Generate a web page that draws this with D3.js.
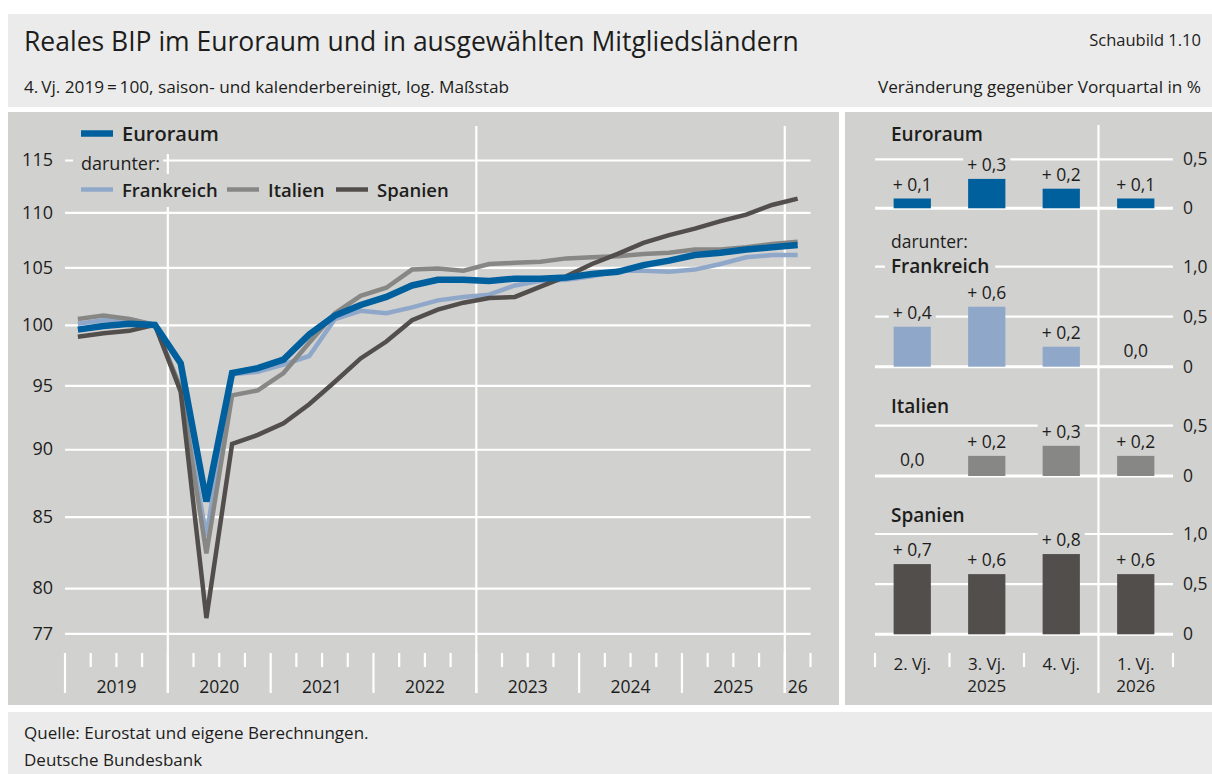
<!DOCTYPE html>
<html>
<head>
<meta charset="utf-8">
<script src="https://cdn.jsdelivr.net/npm/d3@7"></script>
<style>
  body { margin: 0; background: #fff; }
  svg text { font-family: "Open Sans", "Noto Sans", sans-serif; fill: #1d1d1b; }
</style>
</head>
<body>
<svg id="chart" width="1212" height="774"></svg>
<script>
// quarters 2019 Q1 .. 2026 Q1
const quarters = ['2019Q1', '2019Q2', '2019Q3', '2019Q4',
  '2020Q1', '2020Q2', '2020Q3', '2020Q4',
  '2021Q1', '2021Q2', '2021Q3', '2021Q4',
  '2022Q1', '2022Q2', '2022Q3', '2022Q4',
  '2023Q1', '2023Q2', '2023Q3', '2023Q4',
  '2024Q1', '2024Q2', '2024Q3', '2024Q4',
  '2025Q1', '2025Q2', '2025Q3', '2025Q4',
  '2026Q1'];
const yearLabels = ['2019', '2020', '2021', '2022', '2023', '2024', '2025', '26'];
const yTicks = [77, 80, 85, 90, 95, 100, 105, 110, 115];

// 4. Vj. 2019 = 100
const euroraum = [99.6, 99.9, 100.1, 100.0, 96.8, 86.1, 96.0, 96.4, 97.1, 99.2, 100.8, 101.7, 102.4, 103.4, 103.9,
  103.9, 103.8, 104.0, 104.0, 104.1, 104.4, 104.6, 105.2, 105.6, 106.1, 106.3, 106.6, 106.8, 107.0];
const frankreich = [100.1, 100.4, 100.5, 100.0, 94.6, 83.6, 95.9, 96.1, 96.7, 97.4, 100.5, 101.2, 101.0, 101.5, 102.1,
  102.4, 102.6, 103.4, 103.8, 103.9, 104.2, 104.7, 104.7, 104.6, 104.8, 105.3, 105.9, 106.1, 106.1];
const italien = [100.5, 100.8, 100.5, 100.0, 94.8, 82.4, 94.2, 94.6, 96.0, 98.5, 101.0, 102.5, 103.2, 104.8, 104.9,
  104.7, 105.3, 105.4, 105.5, 105.8, 105.9, 106.0, 106.2, 106.3, 106.6, 106.6, 106.8, 107.1, 107.3];
const spanien = [99.0, 99.3, 99.5, 100.0, 94.5, 78.0, 90.4, 91.1, 92.0, 93.5, 95.3, 97.2, 98.6, 100.4, 101.3,
  101.9, 102.3, 102.4, 103.3, 104.2, 105.3, 106.2, 107.2, 107.9, 108.5, 109.2, 109.8, 110.7, 111.3];

// Veränderung gegenüber Vorquartal in %
const barQuarters = ['2. Vj.', '3. Vj.', '4. Vj.', '1. Vj.'];
const barYears = ['', '2025', '', '2026'];
const barEuroraum = [0.1, 0.3, 0.2, 0.1];
const barFrankreich = [0.4, 0.6, 0.2, 0.0];
const barItalien = [0.0, 0.2, 0.3, 0.2];
const barSpanien = [0.7, 0.6, 0.8, 0.6];

const colors = {
  euro: '#005f9d',
  fr: '#8fa8c9',
  it: '#878786',
  es: '#524e4b'
};
const panelColor = '#d1d1d0';

const svg = d3.select('#chart');

// background / frames
svg.append('rect').attr('x', 8).attr('y', 14).attr('width', 1204).attr('height', 760).attr('fill', '#ebebeb');
svg.append('rect').attr('x', 8).attr('y', 107).attr('width', 1204).attr('height', 605).attr('fill', '#fff');
svg.append('rect').attr('x', 8).attr('y', 112).attr('width', 831).attr('height', 593).attr('fill', panelColor);
svg.append('rect').attr('x', 845).attr('y', 112).attr('width', 367).attr('height', 593).attr('fill', panelColor);

// header
svg.append('text').attr('x', 24).attr('y', 51).attr('font-size', 26.5)
  .text('Reales BIP im Euroraum und in ausgewählten Mitgliedsländern');
svg.append('text').attr('x', 1201).attr('y', 46).attr('font-size', 16.5).attr('text-anchor', 'end')
  .text('Schaubild 1.10');
svg.append('text').attr('x', 24).attr('y', 93).attr('font-size', 17.2)
  .text('4.\u2009Vj. 2019\u2009=\u2009100, saison- und kalenderbereinigt, log. Maßstab');
svg.append('text').attr('x', 1201).attr('y', 93).attr('font-size', 17.2).attr('text-anchor', 'end')
  .text('Veränderung gegenüber Vorquartal in %');

// footer
svg.append('text').attr('x', 24).attr('y', 739).attr('font-size', 17)
  .text('Quelle: Eurostat und eigene Berechnungen.');
svg.append('text').attr('x', 24).attr('y', 766).attr('font-size', 17)
  .text('Deutsche Bundesbank');

// helper: text with a panel coloured box behind it
function boxedText(g, str, x, y, opts) {
  const t = g.append('text').attr('x', x).attr('y', y)
    .attr('font-size', opts.size || 17)
    .attr('font-weight', opts.weight || 400)
    .attr('text-anchor', opts.anchor || 'start')
    .text(str);
  const b = t.node().getBBox();
  const padX = opts.padX == null ? 4 : opts.padX;
  g.insert('rect', () => t.node())
    .attr('x', b.x - padX).attr('y', b.y)
    .attr('width', b.width + 2 * padX).attr('height', b.height)
    .attr('fill', panelColor);
  return t;
}

// ---------- left chart ----------
const x = d3.scaleBand().domain(quarters).range([65, 810.5]);
const y = d3.scaleLog().domain([77, 115]).range([633.3, 160]);
const cx = q => x(q) + x.bandwidth() / 2;
const xEnd = x.range()[1];

const left = svg.append('g');

// horizontal grid + labels
const yAxis = d3.axisLeft(y).tickValues(yTicks).tickFormat(d3.format('d'))
  .tickSize(-(xEnd - 65)).tickPadding(12);
const yg = left.append('g').attr('transform', 'translate(65,0)').call(yAxis);
yg.select('.domain').remove();
yg.selectAll('line').attr('stroke', '#fff').attr('stroke-width', 2.2);
yg.selectAll('text').attr('font-size', 18).attr('fill', '#1d1d1b').attr('font-family', null);

// full-height separators
const sepQuarters = ['2020Q1', '2023Q1', '2026Q1'];
left.selectAll('line.sep').data(sepQuarters).join('line')
  .attr('class', 'sep')
  .attr('x1', d => x(d)).attr('x2', d => x(d))
  .attr('y1', 126).attr('y2', 693)
  .attr('stroke', '#fff').attr('stroke-width', 2.2);

// quarter ticks
const tickPos = quarters.map(q => ({pos: x(q), yearStart: q.endsWith('Q1')}));
tickPos.push({pos: xEnd, yearStart: false});
left.selectAll('line.qtick').data(tickPos).join('line')
  .attr('class', 'qtick')
  .attr('x1', d => d.pos).attr('x2', d => d.pos)
  .attr('y1', 653).attr('y2', d => d.yearStart ? 693 : 667)
  .attr('stroke', '#fff').attr('stroke-width', 2.2);

// year labels
left.selectAll('text.year').data(yearLabels).join('text')
  .attr('class', 'year')
  .attr('x', (d, i) => {
    const qs = quarters.filter(q => q.slice(0, 4) === String(2019 + i));
    return (x(qs[0]) + x(qs[qs.length - 1]) + x.bandwidth()) / 2;
  })
  .attr('y', 692.5)
  .attr('font-size', 17.5)
  .attr('text-anchor', 'middle')
  .text(d => d);

// lines
const line = d3.line().x((d, i) => cx(quarters[i])).y(d => y(d));
const series = [
  {name: 'Frankreich', values: frankreich, color: colors.fr, width: 4.5},
  {name: 'Italien', values: italien, color: colors.it, width: 4.5},
  {name: 'Spanien', values: spanien, color: colors.es, width: 4.5},
  {name: 'Euroraum', values: euroraum, color: colors.euro, width: 6.5}
];
left.selectAll('path.series').data(series).join('path')
  .attr('class', 'series')
  .attr('d', d => line(d.values))
  .attr('fill', 'none')
  .attr('stroke', d => d.color)
  .attr('stroke-width', d => d.width)
  .attr('stroke-linejoin', 'miter');

// legend
const lg = left.append('g');
lg.append('rect').attr('x', 73).attr('y', 118).attr('width', 152).attr('height', 36).attr('fill', panelColor);
lg.append('rect').attr('x', 73).attr('y', 150).attr('width', 90).attr('height', 26).attr('fill', panelColor);
lg.append('rect').attr('x', 73).attr('y', 174).attr('width', 380).attr('height', 33).attr('fill', panelColor);
lg.append('line').attr('x1', 81).attr('x2', 113).attr('y1', 133.5).attr('y2', 133.5)
  .attr('stroke', colors.euro).attr('stroke-width', 6.5);
lg.append('text').attr('x', 122).attr('y', 141).attr('font-size', 20).attr('font-weight', 600).text('Euroraum');
lg.append('text').attr('x', 81).attr('y', 170).attr('font-size', 18).text('darunter:');
const legendItems = [
  {name: 'Frankreich', color: colors.fr, x0: 81},
  {name: 'Italien', color: colors.it, x0: 227},
  {name: 'Spanien', color: colors.es, x0: 336}
];
legendItems.forEach(it => {
  lg.append('line').attr('x1', it.x0).attr('x2', it.x0 + 32).attr('y1', 189.5).attr('y2', 189.5)
    .attr('stroke', it.color).attr('stroke-width', 4.5);
  lg.append('text').attr('x', it.x0 + 41).attr('y', 196.5).attr('font-size', 18.5).attr('font-weight', 600)
    .text(it.name);
});

// ---------- right panels ----------
const xb = d3.scaleBand().domain(barQuarters).range([875, 1173]).paddingInner(0.5).paddingOuter(0.25);
const right = svg.append('g');

// separator before 2026
const sepX = 875 + 3 * xb.step();
const fmt = v => d3.format('.1f')(v).replace('.', ',');

const panels = [
  {title: 'Euroraum', pre: null, values: barEuroraum, color: colors.euro, max: 0.5, zero: 208.3, top: 159.3, titleY: 141},
  {title: 'Frankreich', pre: 'darunter:', values: barFrankreich, color: colors.fr, max: 1.0, zero: 366.7, top: 266.7, titleY: 273},
  {title: 'Italien', pre: null, values: barItalien, color: colors.it, max: 0.5, zero: 476, top: 425.7, titleY: 413},
  {title: 'Spanien', pre: null, values: barSpanien, color: colors.es, max: 1.0, zero: 634.3, top: 534, titleY: 522}
];

right.append('line').attr('x1', sepX).attr('x2', sepX).attr('y1', 125).attr('y2', 693)
  .attr('stroke', '#fff').attr('stroke-width', 2.2);

panels.forEach(p => {
  const g = right.append('g');
  const yb = d3.scaleLinear().domain([0, p.max]).range([p.zero, p.top]);
  const ticks = p.max === 1 ? [0, 0.5, 1] : [0, 0.5];
  g.selectAll('line.grid').data(ticks).join('line')
    .attr('class', 'grid')
    .attr('x1', 875).attr('x2', 1173)
    .attr('y1', d => yb(d)).attr('y2', d => yb(d))
    .attr('stroke', '#fff').attr('stroke-width', d => d === 0 ? 3 : 2.2);
  g.selectAll('text.tick').data(ticks).join('text')
    .attr('class', 'tick')
    .attr('x', 1183).attr('y', d => yb(d) + 6)
    .attr('font-size', 17.5)
    .text(d => d === 0 ? '0' : fmt(d));

  if (p.pre) boxedText(g, p.pre, 891, p.titleY - 25, {size: 17.5, padX: 6});
  boxedText(g, p.title, 891, p.titleY, {size: 19, weight: 600, padX: 6});

  g.selectAll('rect.bar').data(p.values).join('rect')
    .attr('class', 'bar')
    .attr('x', (d, i) => xb(barQuarters[i]))
    .attr('width', xb.bandwidth())
    .attr('y', d => yb(d))
    .attr('height', d => yb(0) - yb(d))
    .attr('fill', p.color);

  p.values.forEach((v, i) => {
    const label = v > 0 ? '+ ' + fmt(v) : fmt(v);
    const ly = v > 0 ? yb(v) - 8 : yb(0) - 10;
    boxedText(g, label, xb(barQuarters[i]) + xb.bandwidth() / 2, ly, {size: 17.5, anchor: 'middle', padX: 4});
  });
});

// bottom axis of the bar panels
const bTicks = [0, 1, 2, 4].map(k => 875 + k * xb.step());
right.selectAll('line.btick').data(bTicks).join('line')
  .attr('class', 'btick')
  .attr('x1', d => d).attr('x2', d => d)
  .attr('y1', 653).attr('y2', 667)
  .attr('stroke', '#fff').attr('stroke-width', 2.2);
right.selectAll('text.bq').data(barQuarters).join('text')
  .attr('class', 'bq')
  .attr('x', d => xb(d) + xb.bandwidth() / 2)
  .attr('y', 670)
  .attr('font-size', 17)
  .attr('text-anchor', 'middle')
  .text(d => d);
right.selectAll('text.by').data(barYears).join('text')
  .attr('class', 'by')
  .attr('x', (d, i) => xb(barQuarters[i]) + xb.bandwidth() / 2)
  .attr('y', 692)
  .attr('font-size', 17)
  .attr('text-anchor', 'middle')
  .text(d => d);
</script>
</body>
</html>
